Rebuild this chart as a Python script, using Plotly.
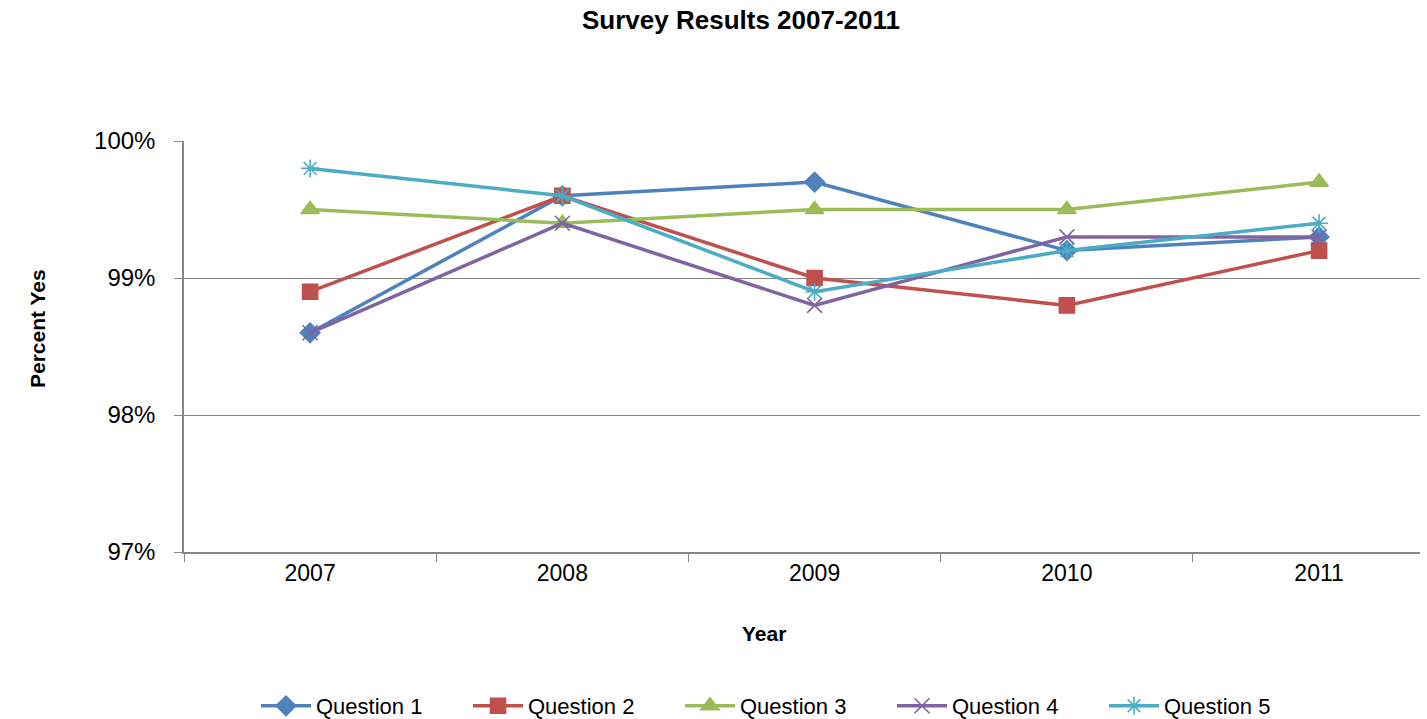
import plotly.graph_objects as go

years = ["2007", "2008", "2009", "2010", "2011"]
q1 = [0.986, 0.996, 0.997, 0.992, 0.993]
q2 = [0.989, 0.996, 0.990, 0.988, 0.992]
q3 = [0.995, 0.994, 0.995, 0.995, 0.997]
q4 = [0.986, 0.994, 0.988, 0.993, 0.993]
q5 = [0.998, 0.996, 0.989, 0.992, 0.994]
names = ["Question 1", "Question 2", "Question 3", "Question 4", "Question 5"]
colors = ["#4F81BD", "#C0504D", "#9BBB59", "#8064A2", "#4BACC6"]
symbols = ["diamond", "square", "triangle-up", "x-thin-open", "asterisk-open"]
sizes = [15, 15, 16, 15, 15]
series = [q1, q2, q3, q4, q5]

FONT = "Liberation Sans, Arial, sans-serif"

fig = go.Figure()
for name, vals, col, sym, sz in zip(names, series, colors, symbols, sizes):
    fig.add_trace(go.Scatter(
        x=years, y=vals, name=name, mode="lines+markers",
        line=dict(color=col, width=3.5),
        marker=dict(symbol=sym, size=sz, color=col,
                    line=dict(color=col, width=1.6)),
    ))

fig.update_layout(
    width=1427, height=719,
    margin=dict(l=184, r=7, t=141, b=167),
    paper_bgcolor="white", plot_bgcolor="white",
    font=dict(family=FONT, color="black"),
    title=dict(text="<b>Survey Results 2007-2011</b>", x=741/1427, xanchor="center",
               y=1 - 20/719, yanchor="middle", yref="container",
               font=dict(size=26, family=FONT, color="black")),
    showlegend=True,
    legend=dict(orientation="h", x=256/1427, xanchor="left", xref="container",
                y=(719 - 706)/719, yanchor="middle", yref="container",
                font=dict(size=22, family=FONT, color="black"),
                itemwidth=50, entrywidth=147, entrywidthmode="pixels",
                bgcolor="rgba(0,0,0,0)"),
    xaxis=dict(type="category", range=[-0.5, 4.4], tickson="boundaries",
               ticks="outside", ticklen=8, tickcolor="#868686", tickwidth=1,
               showline=True, linecolor="#868686", linewidth=1.5,
               showgrid=False, tickfont=dict(size=23, family=FONT, color="black"),
               fixedrange=True),
    yaxis=dict(range=[0.97, 1.0], dtick=0.01, tickformat=".0%",
               ticks="outside", ticklen=8, tickcolor="#868686", tickwidth=1,
               showline=True, linecolor="#868686", linewidth=1.5,
               showgrid=True, gridcolor="#868686", gridwidth=1,
               zeroline=False, ticklabelstandoff=14,
               tickfont=dict(size=24, family=FONT, color="black")),
)

fig.add_annotation(text="<b>Year</b>", xref="paper", yref="paper",
                   x=(764 - 184)/1236, y=-(633 - 552)/411, xanchor="center", yanchor="middle",
                   showarrow=False, font=dict(size=21, family=FONT, color="black"))
fig.add_annotation(text="<b>Percent Yes</b>", xref="paper", yref="paper",
                   x=(37 - 184)/1236, y=(552 - 329)/411, xanchor="center", yanchor="middle",
                   textangle=-90, showarrow=False,
                   font=dict(size=21, family=FONT, color="black"))

fig.write_html("out.html")
